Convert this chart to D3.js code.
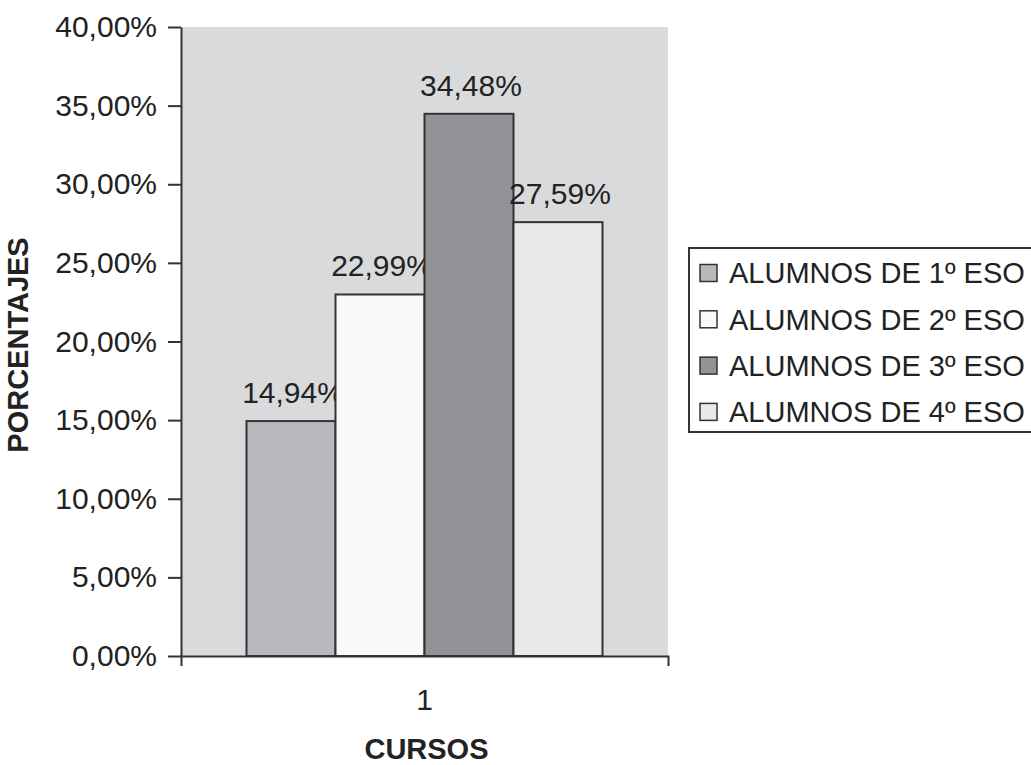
<!DOCTYPE html>
<html>
<head>
<meta charset="utf-8">
<script src="https://cdn.jsdelivr.net/npm/d3@7"></script>
<style>
  body { margin: 0; background: #fff; }
  text { font-family: "Liberation Sans", Arial, sans-serif; fill: #222; }
</style>
</head>
<body>
<svg id="chart" width="1031" height="765"></svg>
<script>
// Data
let categories = ["1"];
let seriesNames = ["ALUMNOS DE 1º ESO", "ALUMNOS DE 2º ESO", "ALUMNOS DE 3º ESO", "ALUMNOS DE 4º ESO"];
let seriesValues = [14.94, 22.99, 34.48, 27.59];
let seriesColors = ["#b8b9bc", "#f8f9f9", "#939296", "#e8e9eb"];
let yTicks = [0, 5, 10, 15, 20, 25, 30, 35, 40];

let svg = d3.select("svg#chart");

// plot area
let margin = { "top": 27, "left": 181 };
let chartWidth = 487;
let chartHeight = 629;

let fmt = v => d3.format(".2f")(v).replace(".", ",") + "%";

const xScale = d3.scaleBand()
  .domain(categories)
  .range([0, chartWidth])
  .paddingInner(0)
  .paddingOuter(0.184);

const seriesScale = d3.scaleBand()
  .domain(seriesNames)
  .range([0, xScale.bandwidth()]);

const yScale = d3.scaleLinear()
  .domain([0, 40])
  .range([chartHeight, 0]);

let plot = svg.append("g")
  .attr("transform", "translate(" + margin.left + "," + margin.top + ")");

plot.append("rect")
  .attr("width", chartWidth)
  .attr("height", chartHeight)
  .attr("fill", "#d9dadc");

// bars
categories.forEach(c => {
  seriesValues.forEach((v, i) => {
    plot.append("rect")
      .attr("x", xScale(c) + seriesScale(seriesNames[i]))
      .attr("y", yScale(v))
      .attr("width", seriesScale.bandwidth())
      .attr("height", chartHeight - yScale(v))
      .attr("fill", seriesColors[i])
      .attr("stroke", "#333")
      .attr("stroke-width", 2);

    plot.append("text")
      .attr("x", xScale(c) + seriesScale(seriesNames[i]) + seriesScale.bandwidth() / 2 + 2)
      .attr("y", yScale(v) - 18)
      .attr("text-anchor", "middle")
      .attr("font-size", "30px")
      .text(fmt(v));
  });
});

// axes
let leftAxis = d3.axisLeft(yScale)
  .tickValues(yTicks)
  .tickSizeInner(13)
  .tickSizeOuter(0)
  .tickPadding(11)
  .tickFormat(fmt);

let bottomAxis = d3.axisBottom(xScale)
  .tickSizeInner(0)
  .tickSizeOuter(10)
  .tickPadding(33);

let gy = plot.append("g").call(leftAxis);
let gx = plot.append("g")
  .attr("transform", "translate(0," + chartHeight + ")")
  .call(bottomAxis);

[gy, gx].forEach(g => {
  g.selectAll("path, line").attr("stroke", "#333").attr("stroke-width", 2);
  g.selectAll("text")
    .attr("font-size", "30px")
    .attr("font-family", "'Liberation Sans', Arial, sans-serif")
    .attr("fill", "#222");
});

// axis titles
svg.append("text")
  .attr("text-anchor", "middle")
  .attr("transform", "translate(28,345) rotate(-90)")
  .attr("font-size", "29px")
  .attr("font-weight", "bold")
  .text("PORCENTAJES");

svg.append("text")
  .attr("text-anchor", "middle")
  .attr("x", margin.left + xScale("1") + xScale.bandwidth() / 2 + 2)
  .attr("y", 759)
  .attr("font-size", "29px")
  .attr("font-weight", "bold")
  .text("CURSOS");

// legend (box runs past the right edge, as in the original)
let legend = svg.append("g").attr("transform", "translate(689,248)");
legend.append("rect")
  .attr("width", 380)
  .attr("height", 184)
  .attr("fill", "#fff")
  .attr("stroke", "#333")
  .attr("stroke-width", 2);

seriesNames.forEach((name, i) => {
  let cy = 25 + i * 46.3;
  legend.append("rect")
    .attr("x", 11)
    .attr("y", cy - 8.5)
    .attr("width", 17)
    .attr("height", 17)
    .attr("fill", seriesColors[i])
    .attr("stroke", "#333")
    .attr("stroke-width", 1.5);
  legend.append("text")
    .attr("x", 40)
    .attr("y", cy)
    .attr("dy", "0.36em")
    .attr("font-size", "29px")
    .text(name);
});
</script>
</body>
</html>
